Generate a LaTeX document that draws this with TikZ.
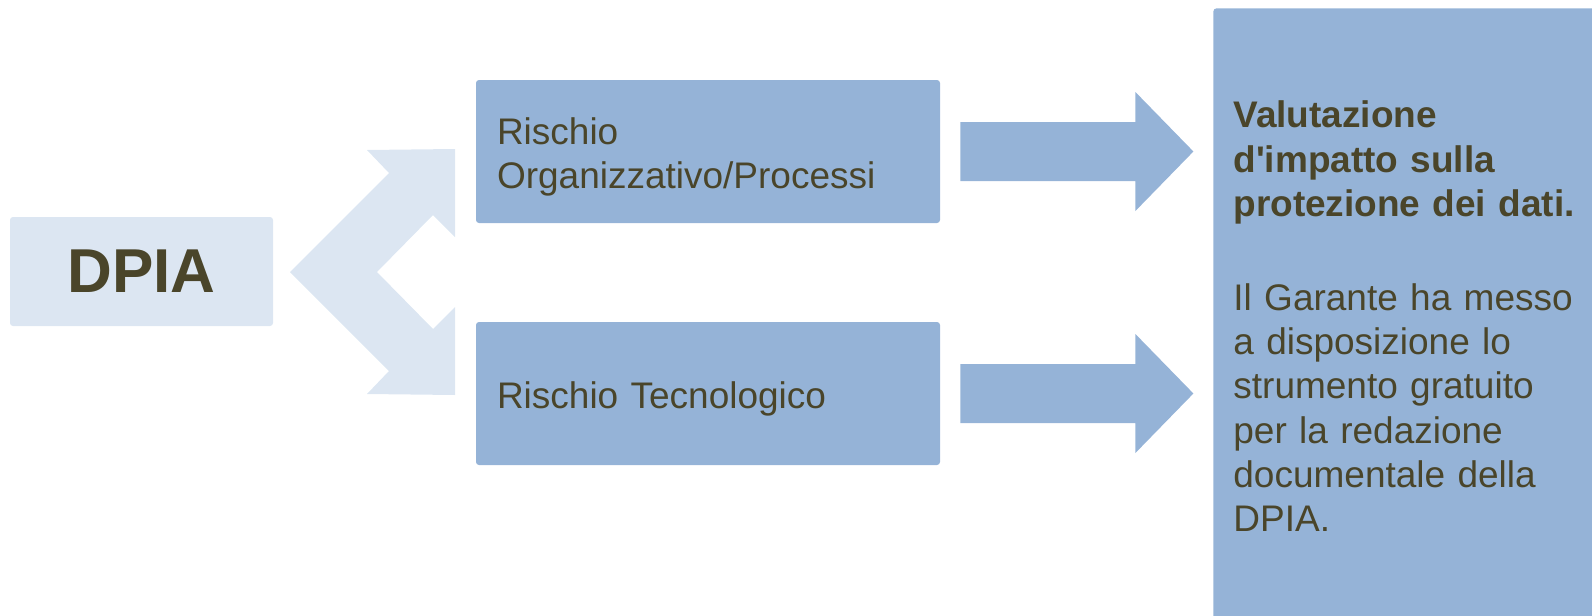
\documentclass[tikz,border=0pt]{standalone}
\usepackage{fontspec}
\setmainfont{Liberation Sans}
\usetikzlibrary{calc}
\definecolor{paleblue}{HTML}{DCE6F2}
\definecolor{midblue}{HTML}{95B3D7}
\definecolor{darktext}{HTML}{4A452A}
\begin{document}
\begin{tikzpicture}
    [
    x=0.5pt,y=-0.5pt,
    every node/.style={text=darktext,font=\fontsize{18.5pt}{22.15pt}\selectfont},
    startbox/.style={fill=paleblue,rounded corners=1.5pt,minimum width=131.5pt,minimum height=54.5pt,font=\fontsize{31pt}{36pt}\selectfont\bfseries},
    riskbox/.style={fill=midblue,rounded corners=1.5pt,text width=211pt,minimum height=71.5pt,inner xsep=10.5pt,align=left,
      execute at begin node={\rule{0pt}{18.5pt}}},
    resultbox/.style={fill=midblue,rounded corners=1.5pt,anchor=north west,minimum width=200pt,minimum height=308pt,inner xsep=10pt,text width=180pt,align=left}
    ]
    \clip (0,0) rectangle (1592,616);
    \node (dpia) at (141.5,271.5) [startbox] {DPIA};
    \node (org) at (708,151.5) [riskbox] {Rischio\\Organizzativo/Processi};
    \node (tec) at (708,393.5) [riskbox] {Rischio Tecnologico};
    \node (val) at (1213,8) [resultbox] {\textbf{Valutazione\\d\textquotesingle impatto sulla\\protezione dei dati.}\\[24.8pt]
      Il Garante ha messo\\a disposizione lo\\strumento gratuito\\per la redazione\\documentale della\\DPIA.};
    % split arrow out of the DPIA box
    \fill [paleblue] (290,272) -- (389,173) -- (367,150) -- (455,149) -- (455,237) -- (433,215)
      -- (377,272) -- (433,329) -- (455,307) -- (455,395) -- (367,394) -- (389,371) -- cycle;
    % block arrows towards the result
    \foreach \b in {org,tec}
      \fill [midblue] ($(\b.east)+(20,0)$) ++(0,-29.5) -- ++(175,0) -- ++(0,-30) -- ++(58,59.5)
        -- ++(-58,59.5) -- ++(0,-30) -- ++(-175,0) -- cycle;
  \end{tikzpicture}
\end{document}
